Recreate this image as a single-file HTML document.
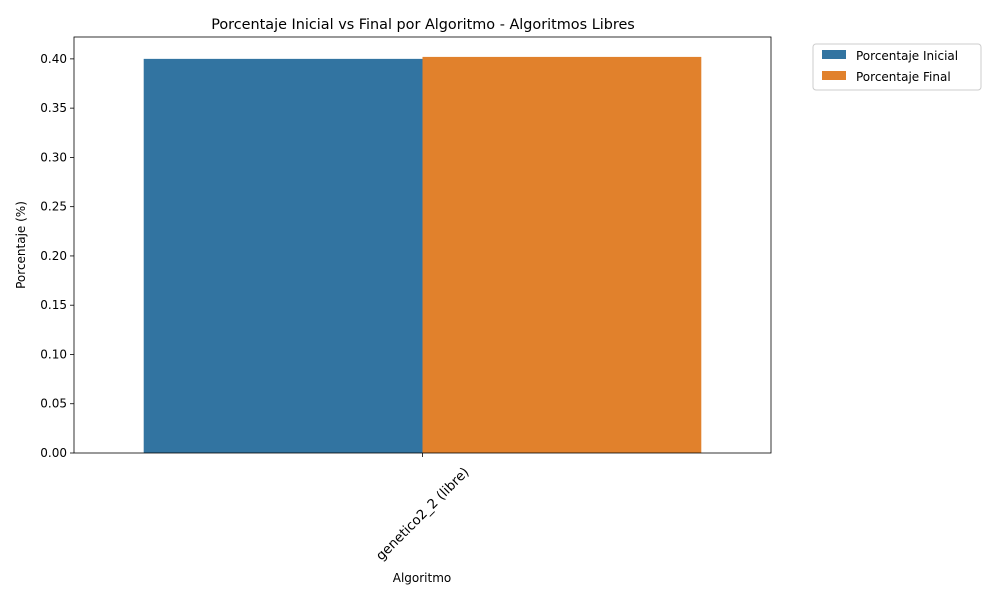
<!DOCTYPE html>
<html><head><meta charset="utf-8"><style>
body{margin:0;background:#fff;font-family:"Liberation Sans","DejaVu Sans",sans-serif;}
svg text{font-family:"DejaVu Sans","Liberation Sans",sans-serif;}
</style></head><body>
<svg id="c" width="1000" height="600" xmlns="http://www.w3.org/2000/svg">
<text x="423" y="29" font-size="14.4" text-anchor="middle" fill="#000">Porcentaje Inicial vs Final por Algoritmo - Algoritmos Libres</text>
<g id="plot"></g>
<text x="422" y="582" font-size="12" text-anchor="middle">Algoritmo</text>
<text transform="translate(25,245) rotate(-90)" font-size="12" text-anchor="middle">Porcentaje (%)</text>
<g>
<rect x="813" y="44" width="168" height="46" rx="3" fill="#fff" stroke="#ccc"/>
<rect x="822" y="50" width="24" height="9" fill="#3274a1"/>
<text x="856" y="60" font-size="12">Porcentaje Inicial</text>
<rect x="822" y="71" width="24" height="9" fill="#e1812c"/>
<text x="856" y="81" font-size="12">Porcentaje Final</text>
</g>
</svg>
<script>
const categories=["genetico2_2 (libre)"];
const inicial=[0.400];
const final_=[0.402];
const yTicks=[0,0.05,0.10,0.15,0.20,0.25,0.30,0.35,0.40];
const L=74,R=771,T=37,B=453,yMax=0.4222;
const ns="http://www.w3.org/2000/svg";
const g=document.getElementById('plot');
const y=v=>B-(v/yMax)*(B-T);
const bw=(R-L)/categories.length;
function mk(t,a){const e=document.createElementNS(ns,t);for(const k in a)e.setAttribute(k,a[k]);g.appendChild(e);return e;}
categories.forEach((c,i)=>{
  const cx=L+bw*(i+0.5);
  const w=bw*0.8/2;
  const b1=mk('rect',{x:cx-w,y:y(inicial[i]),width:w,height:B-y(inicial[i]),fill:'#3274a1'});
  
  
  const b2=mk('rect',{x:cx,y:y(final_[i]),width:w,height:B-y(final_[i]),fill:'#e1812c'});
  
  
  mk('line',{x1:cx,x2:cx,y1:B,y2:B+4,stroke:'#000','stroke-width':0.8});
  const t=mk('text',{transform:`translate(${cx+3},${B+64}) rotate(-45)`,'font-size':13.3,'text-anchor':'middle'});
  t.textContent=c;
  
  
});
yTicks.forEach(v=>{
  const yy=y(v);
  mk('line',{x1:L-4,x2:L,y1:yy,y2:yy,stroke:'#000','stroke-width':0.8});
  const t=mk('text',{x:L-7,y:yy+4,'font-size':12,'text-anchor':'end'});
  t.textContent=v.toFixed(2);
  
  
});
const fr=mk('rect',{x:L,y:T,width:R-L,height:B-T,fill:'none',stroke:'#000','stroke-width':0.8});


</script>
</body></html>
